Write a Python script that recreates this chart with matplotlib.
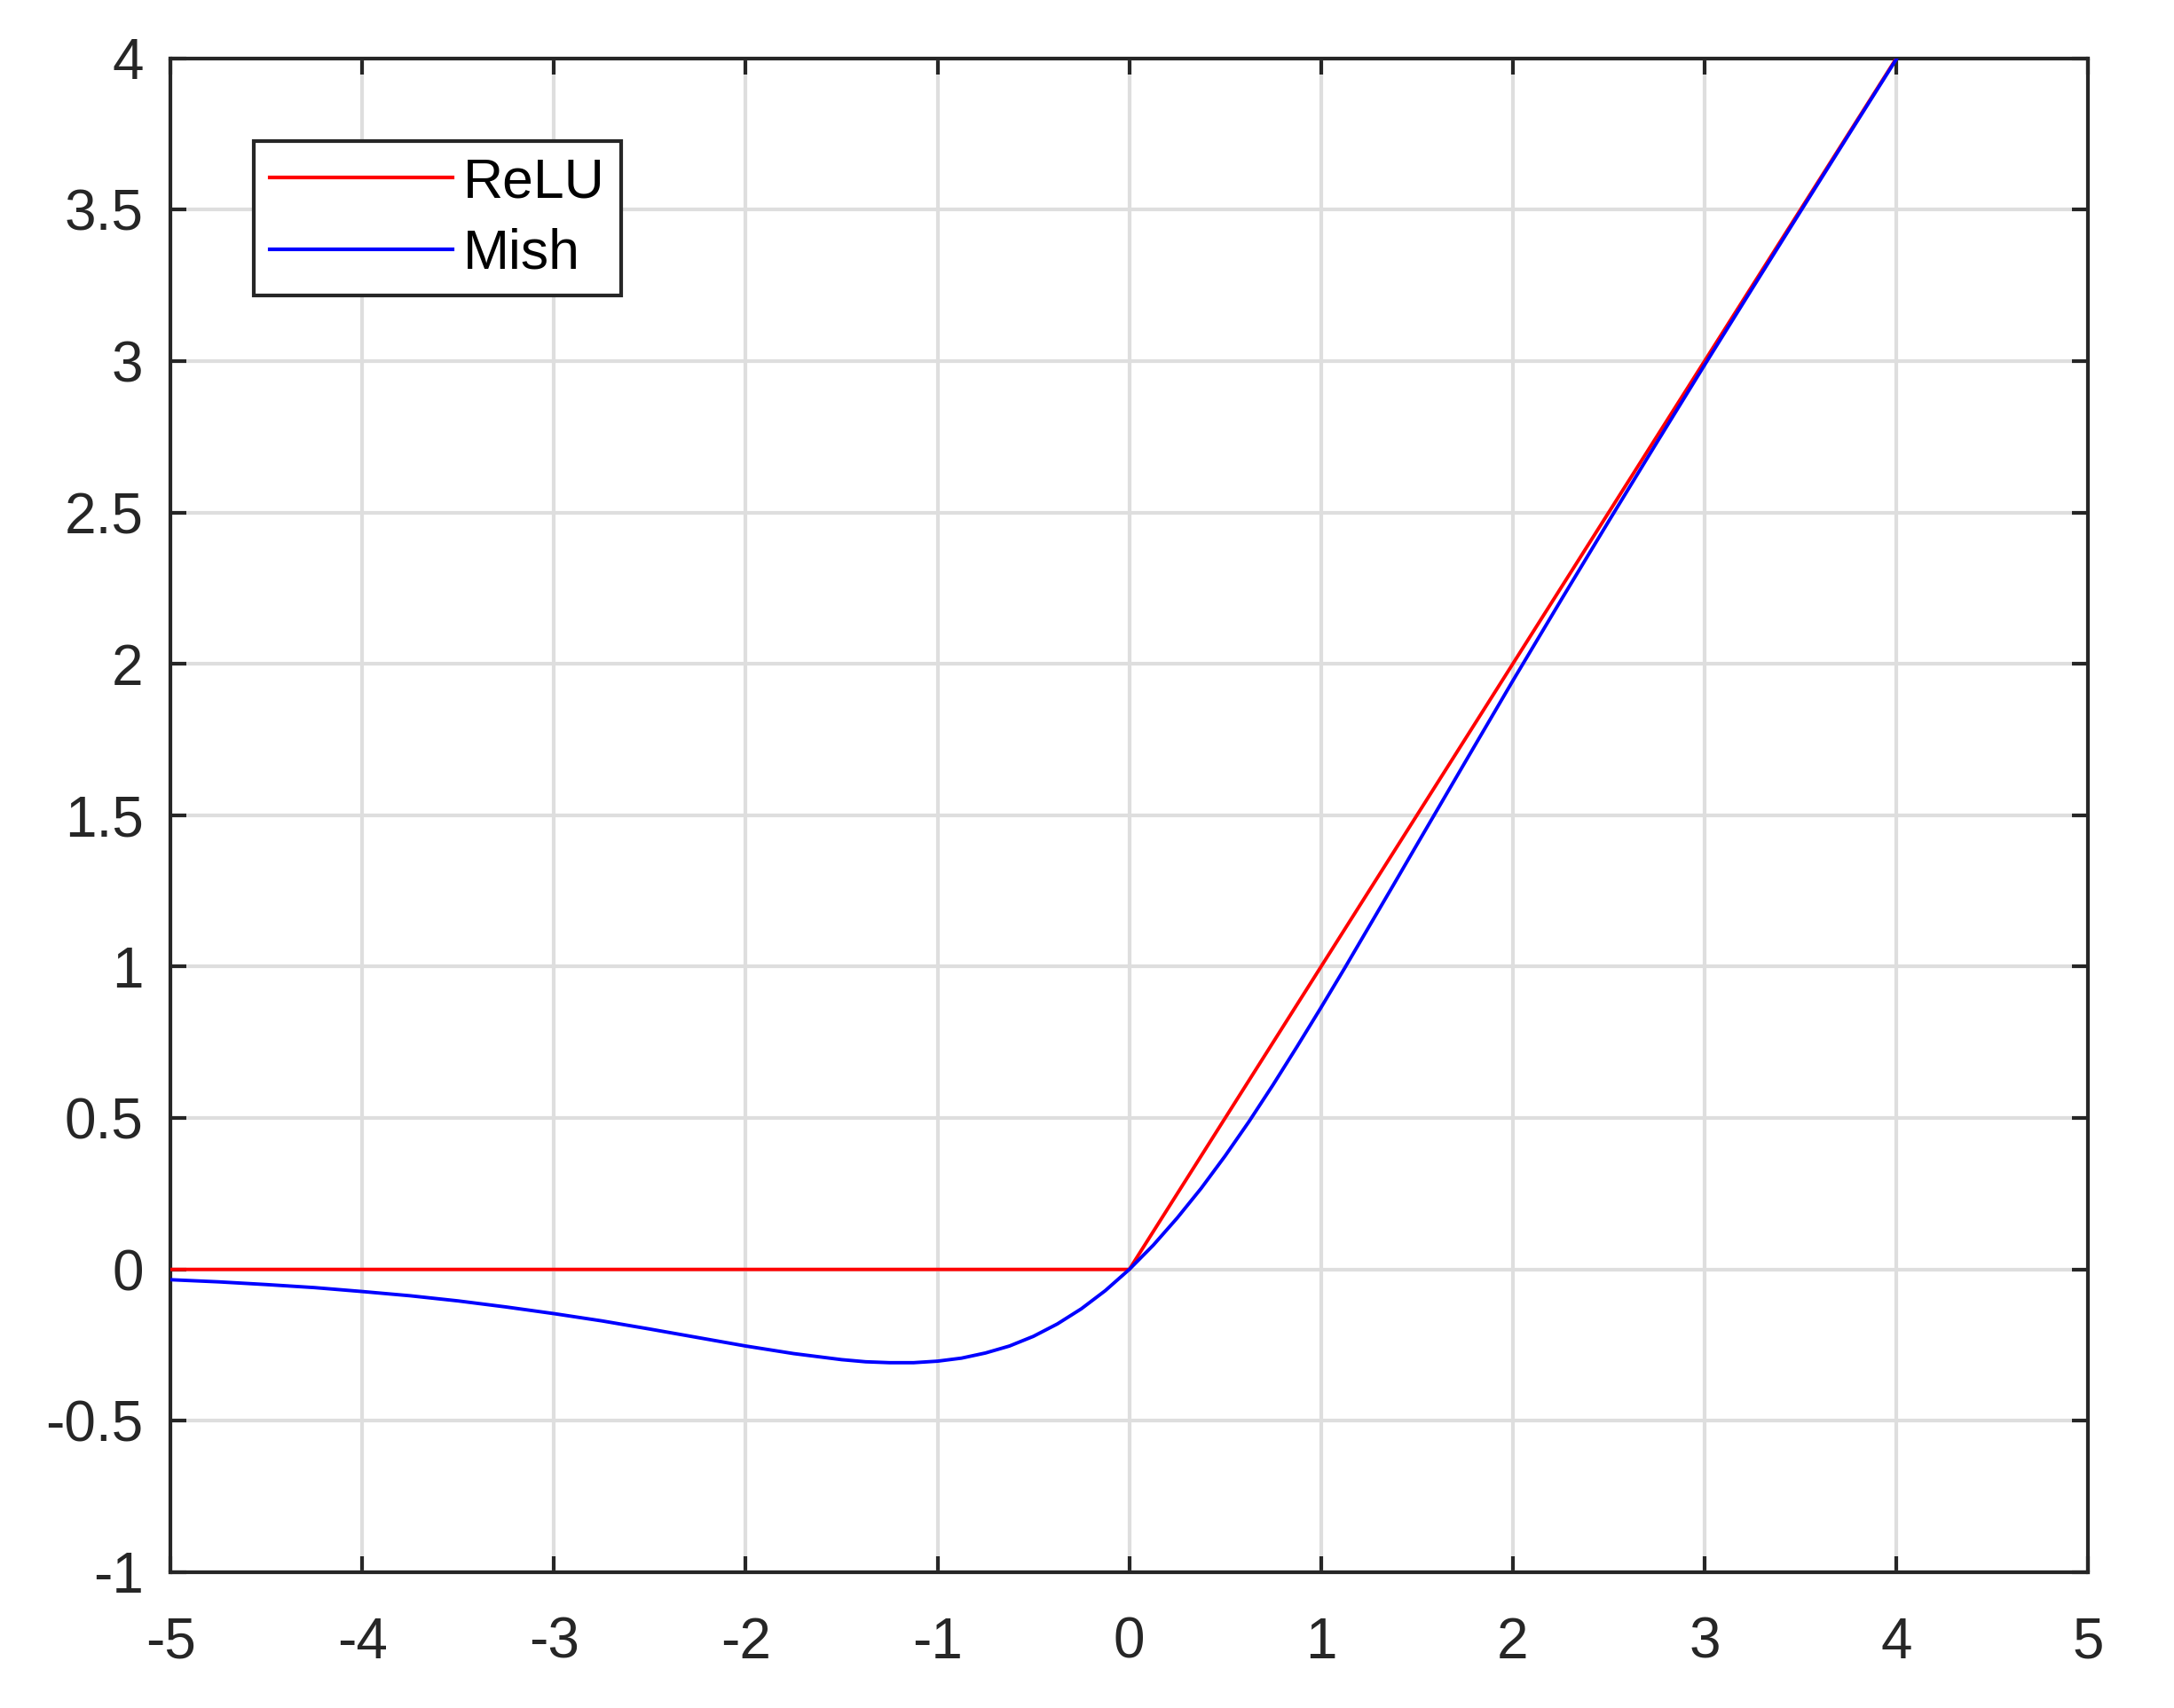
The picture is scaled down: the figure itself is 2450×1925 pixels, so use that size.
import matplotlib
matplotlib.use('Agg')
import matplotlib.pyplot as plt

# values
relu_x = [-5, 0, 4]
relu_y = [0, 0, 4]

mish_x = [-5, -4.75, -4.5, -4.25, -4, -3.75, -3.5, -3.25, -3, -2.75, -2.5, -2.25,
          -2, -1.75, -1.5, -1.375, -1.25, -1.125, -1, -0.875, -0.75, -0.625,
          -0.5, -0.375, -0.25, -0.125, 0, 0.125, 0.25, 0.375, 0.5, 0.625, 0.75,
          0.875, 1, 1.125, 1.25, 1.375, 1.5, 1.75, 2, 2.25, 2.5, 2.75, 3, 3.25,
          3.5, 3.75, 4]
mish_y = [-0.034, -0.041, -0.050, -0.060, -0.073, -0.087, -0.104, -0.124, -0.146,
          -0.170, -0.197, -0.225, -0.253, -0.278, -0.298, -0.305, -0.308, -0.308,
          -0.303, -0.293, -0.276, -0.253, -0.221, -0.180, -0.130, -0.070, 0.0,
          0.080, 0.170, 0.268, 0.375, 0.489, 0.610, 0.736, 0.865, 0.997, 1.132,
          1.267, 1.403, 1.674, 1.944, 2.209, 2.471, 2.730, 2.987, 3.241, 3.494,
          3.746, 3.997]

x_ticks = [-5, -4, -3, -2, -1, 0, 1, 2, 3, 4, 5]
y_ticks = [-1, -0.5, 0, 0.5, 1, 1.5, 2, 2.5, 3, 3.5, 4]
y_ticklabels = ['-1', '-0.5', '0', '0.5', '1', '1.5', '2', '2.5', '3', '3.5', '4']

plt.rcParams['font.family'] = ['Liberation Sans', 'DejaVu Sans']

fig = plt.figure(figsize=(24.5, 19.25), dpi=100)
ax = fig.add_axes([0.0784, 0.0795, 0.9605 - 0.0784, 0.9659 - 0.0795])

ax.plot(relu_x, relu_y, color='#ff0000', lw=2.8, label='ReLU', zorder=3,
        solid_joinstyle='round')
ax.plot(mish_x, mish_y, color='#0000ff', lw=2.8, label='Mish', zorder=4,
        solid_joinstyle='round')

ax.set_xlim(-5, 5)
ax.set_ylim(-1, 4)
ax.set_xticks(x_ticks)
ax.set_xticklabels([str(t) for t in x_ticks])
ax.set_yticks(y_ticks)
ax.set_yticklabels(y_ticklabels)

ax.grid(True, color='#dedede', lw=3, zorder=0)
ax.set_axisbelow(True)

for s in ax.spines.values():
    s.set_linewidth(3)
    s.set_color('#262626')

ax.tick_params(direction='in', length=13, width=3, color='#262626',
               labelsize=46, labelcolor='#262626', top=True, right=True)
ax.tick_params(axis='x', pad=36)
ax.tick_params(axis='y', pad=22)

leg = ax.legend(loc='upper left', bbox_to_anchor=(0.0435, 0.9455), fontsize=45,
                frameon=True, fancybox=False, handlelength=3.3, handletextpad=0.2,
                borderpad=0.28, labelspacing=0.34, borderaxespad=0)
leg.get_frame().set_edgecolor('#262626')
leg.get_frame().set_linewidth(3)
leg.get_frame().set_alpha(1)
for line in leg.get_lines():
    line.set_linewidth(3)

fig.savefig('out.png', dpi=100, facecolor='white')
